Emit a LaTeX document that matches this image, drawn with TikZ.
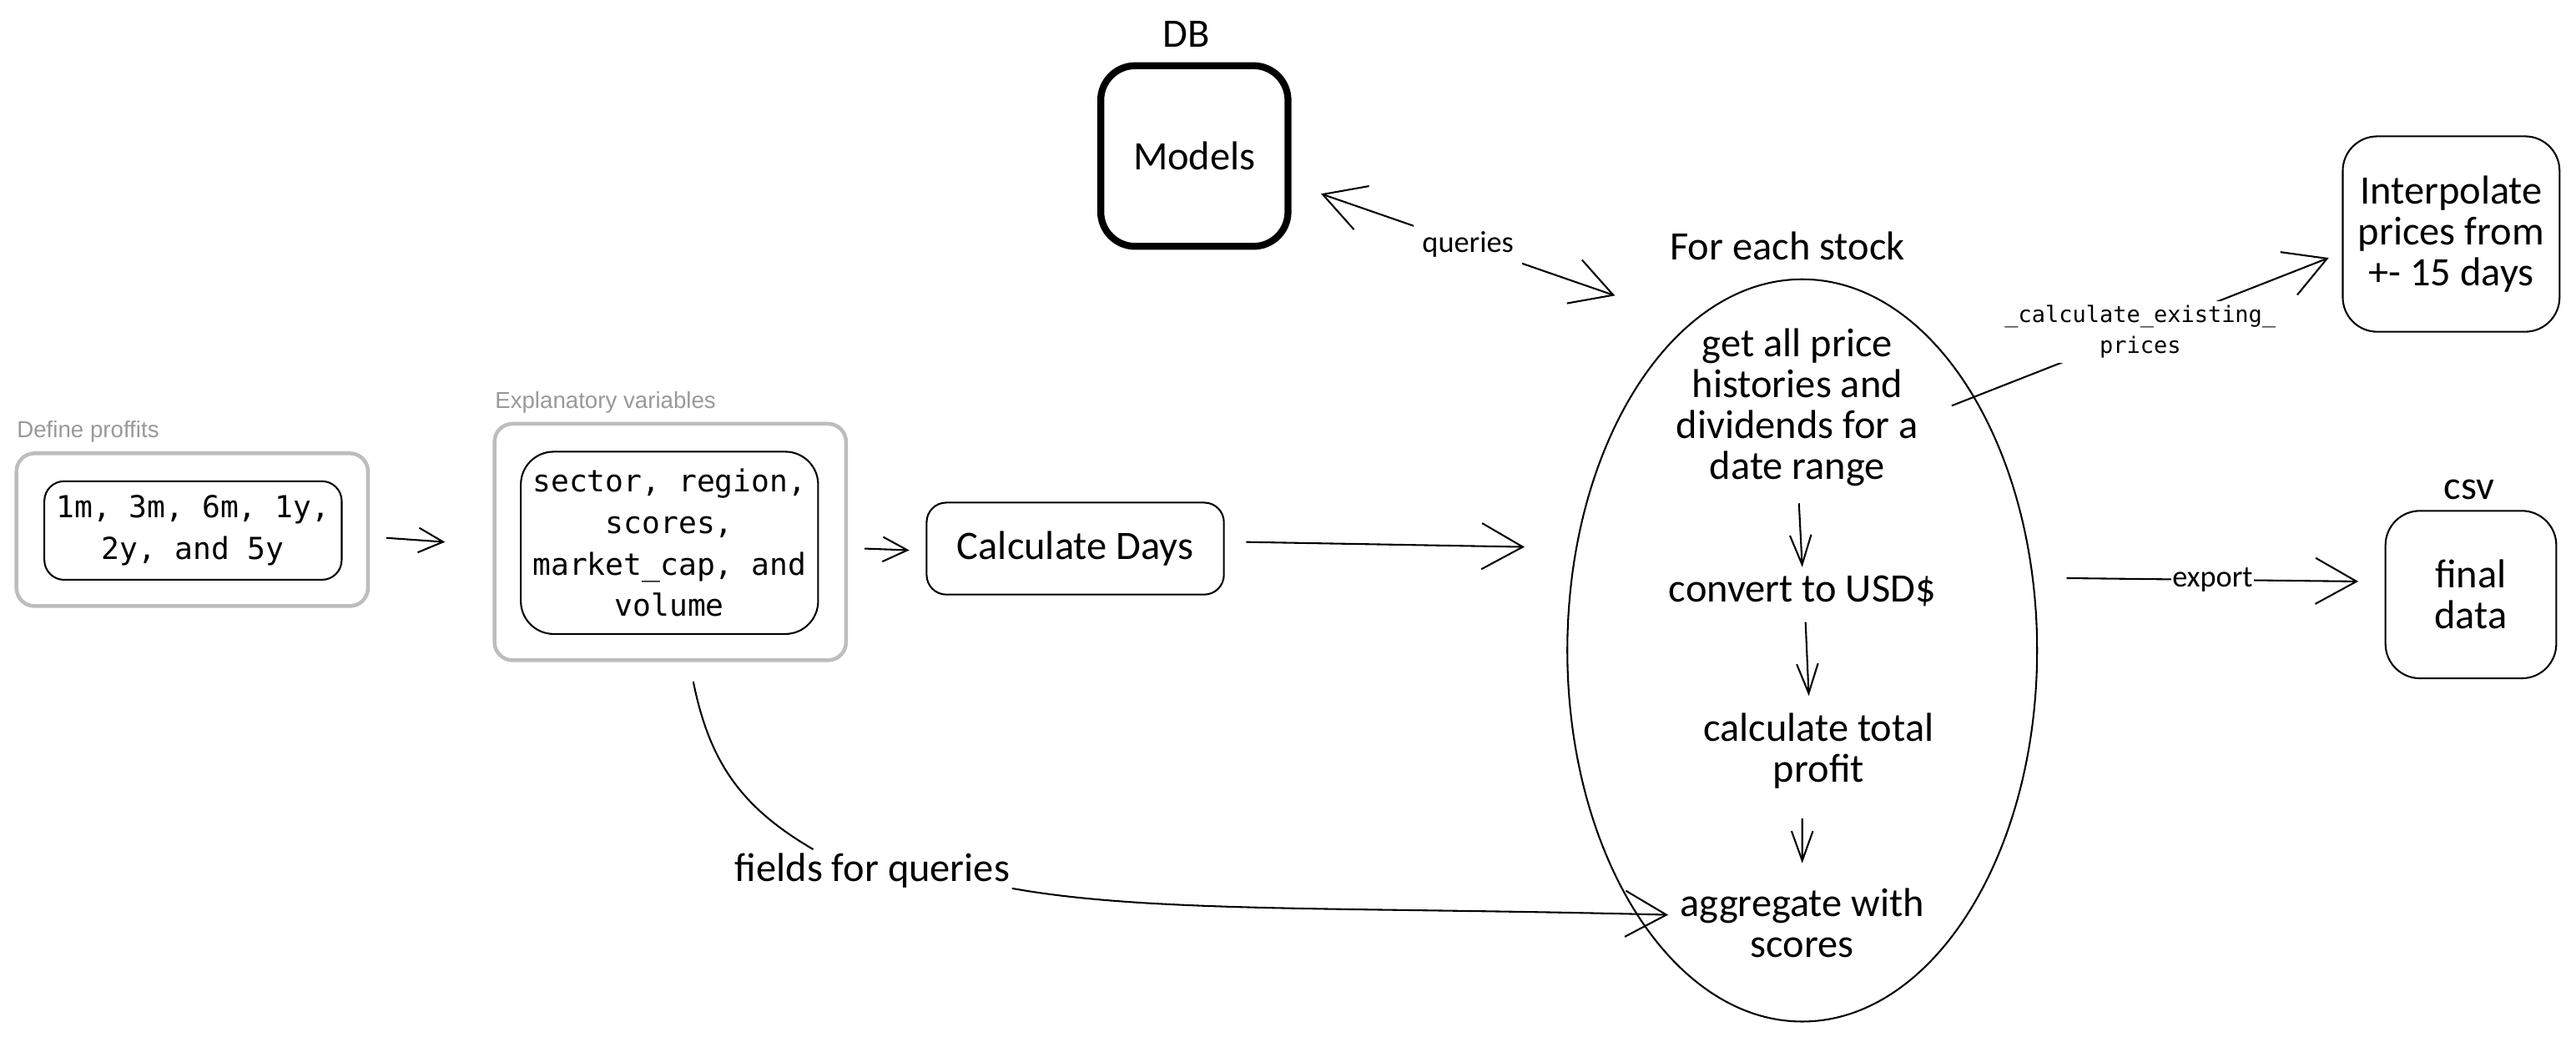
\documentclass[tikz,border=0pt]{standalone}
\usepackage{fontspec}
\setmainfont{Carlito}
\newfontfamily\monof{DejaVu Sans Mono}
\newfontfamily\labf{Liberation Sans}
\usetikzlibrary{arrows.meta,shapes.geometric}
\definecolor{grayline}{HTML}{BDBDBD}
\definecolor{graytext}{HTML}{999999}
\begin{document}
\begin{tikzpicture}[x=0.02cm,y=-0.02cm,
  hand/.style={font=\fontsize{14}{14.2}\selectfont, align=center, inner sep=0pt},
  monot/.style={font=\monof\fontsize{10.5}{14.4}\selectfont, align=center},
  smallhand/.style={font=\fontsize{10.5}{12}\selectfont, inner sep=1.5pt, fill=white},
  graylab/.style={font=\labf\fontsize{8}{9}\selectfont, text=graytext, anchor=west, inner sep=0pt},
  box/.style={draw, line width=0.6pt, rounded corners=0.24cm, inner sep=0pt},
  bigbox/.style={draw, line width=0.6pt, rounded corners=0.42cm, inner sep=0pt, align=center},
  grayb/.style={draw=grayline, line width=1.3pt, rounded corners=0.22cm, inner sep=0pt},
  arr/.style={-{Straight Barb[length=0.5cm,width=0.56cm]}, line width=0.6pt},
  sarr/.style={-{Straight Barb[length=0.3cm,width=0.3cm]}, line width=0.6pt},
  iarr/.style={-{Straight Barb[length=0.36cm,width=0.26cm]}, line width=0.6pt}]
\useasboundingbox (0,0) rectangle (1568,631);

% left group
\node[graylab] (deflab) at (10,263) {Define proffits};
\node[grayb, minimum width=4.28cm, minimum height=1.86cm] (outer1) at (117,322.5) {};
\node[box, monot, minimum width=3.62cm, minimum height=1.2cm] (inner1) at (117.5,323) {1m, 3m, 6m, 1y,\\2y, and 5y};

\node[graylab] (expllab) at (301,245) {Explanatory variables};
\node[grayb, minimum width=4.28cm, minimum height=2.88cm] (outer2) at (408,330) {};
\node[box, monot, rounded corners=0.4cm, minimum width=3.62cm, minimum height=2.22cm] (inner2) at (407.5,330.5) {sector, region,\\scores,\\market\_cap, and\\volume};

\node[box, hand, minimum width=3.62cm, minimum height=1.12cm] (calc) at (654.5,334) {Calculate Days};

\draw[sarr] ([xshift=0.2cm,yshift=-0.1cm]outer1.east) -- ([xshift=-0.58cm,yshift=0cm]outer2.west);
\draw[sarr] ([xshift=0.2cm,yshift=-0.08cm]outer2.east) -- ([xshift=-0.2cm,yshift=-0.02cm]calc.west);

% ellipse
\node[draw, ellipse, line width=0.6pt, minimum width=5.72cm, minimum height=9.04cm] (ell) at (1097,396) {};
\node[hand] (foreach) at (1088,150) {For each stock};
\node[hand] (t1) at (1094,248) {get all price\\histories and\\dividends for a\\date range};
\node[hand] (t2) at (1097,360) {convert to USD\$};
\node[hand] (t3) at (1107,457) {calculate total\\profit};
\node[hand] (t4) at (1097,562) {aggregate with\\scores};
\coordinate (a3end) at (928,333);
\draw[arr] ([xshift=0.26cm,yshift=0.08cm]calc.east) -- (a3end);

\draw[iarr] ([xshift=0.02cm,yshift=-0.2cm]t1.south) -- ([yshift=0.1cm]t2.north);
\draw[iarr] ([xshift=0.04cm,yshift=-0.18cm]t2.south) -- ([xshift=-0.12cm,yshift=0.2cm]t3.north);
\draw[iarr] ([xshift=-0.2cm,yshift=-0.36cm]t3.south) -- ([yshift=0.3cm]t4.north);

% DB
\node[hand] (dblab) at (722,21) {DB};
\node[draw, line width=2.4pt, rounded corners=0.42cm, minimum width=2.28cm, minimum height=2.2cm, hand] (models) at (727,95) {Models};
\coordinate (qend) at (983,180);
\draw[{Straight Barb[length=0.5cm,width=0.56cm]}-{Straight Barb[length=0.5cm,width=0.56cm]}, line width=0.6pt]
  ([xshift=0.36cm,yshift=-0.46cm]models.east) -- node[smallhand, pos=0.5, inner sep=3pt] {queries} (qend);

% Interpolate
\node[bigbox, hand, minimum width=2.64cm, minimum height=2.38cm] (interp) at (1492,142.5) {Interpolate\\prices from\\+- 15 days};
\coordinate (cestart) at (1188,247);
\draw[arr] (cestart) -- node[font=\monof\fontsize{7.8}{10.8}\selectfont, align=center, fill=white, inner sep=1.5pt] {\_calculate\_existing\_\\prices} ([xshift=-0.16cm,yshift=-0.29cm]interp.west);

% csv
\node[hand] (csvlab) at (1503,298) {csv};
\node[bigbox, hand, minimum width=2.08cm, minimum height=2.04cm] (final) at (1504,362) {final\\data};
\coordinate (exstart) at (1258,352);
\draw[arr] (exstart) -- node[smallhand, inner sep=0.5pt] {export} ([xshift=-0.32cm,yshift=0.16cm]final.west);

% fields for queries
\node[hand] (fields) at (531,530) {fields for queries};
\coordinate (fstart) at (422,415);
\draw[line width=0.6pt] (fstart) .. controls (432,465) and (452,492) .. ([xshift=0.96cm,yshift=0.04cm]fields.north west);
\draw[arr] ([xshift=0.02cm,yshift=0cm]fields.south east) .. controls (700,556) and (820,552) .. ([xshift=-0.14cm,yshift=0.1cm]t4.west);
\end{tikzpicture}
\end{document}
